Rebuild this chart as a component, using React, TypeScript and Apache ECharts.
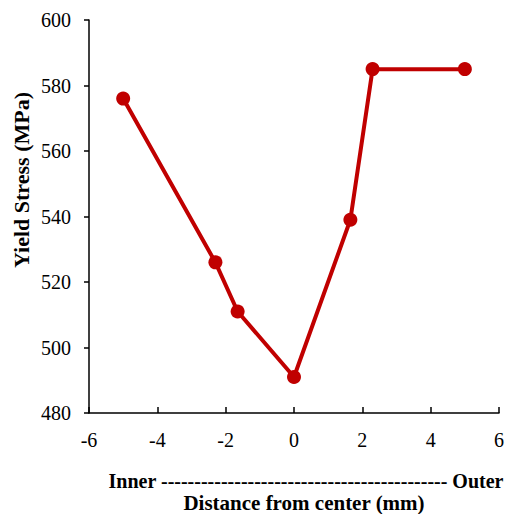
import React, { useEffect, useRef } from "react";
import * as echarts from "echarts";

const distances = [-5, -2.3, -1.65, 0, 1.65, 2.3, 5];
const yieldStress = [576, 526, 511, 491, 539, 585, 585];
const yTitle = "Yield Stress (MPa)";
const xTitle = "Distance from center (mm)";
const sideLabel = "Inner " + "-".repeat(43) + " Outer";

const FONT = "Liberation Serif";

const tickRich = {
  t: { fontFamily: FONT, fontSize: 20, color: "#000", fontWeight: "normal" },
};

export default function App() {
  const ref = useRef<HTMLDivElement>(null);
  useEffect(() => {
    if (!ref.current) return;
    const chart = echarts.init(ref.current, undefined, { renderer: "svg" });
    chart.setOption({
      animation: false,
      textStyle: { fontFamily: FONT },
      grid: { left: 89, right: 8, top: 20, bottom: 101, containLabel: false },
      xAxis: {
        type: "value",
        min: -6,
        max: 6,
        interval: 2,
        axisLine: { show: true, onZero: false, lineStyle: { color: "#000", width: 1.5 } },
        axisTick: { show: true, inside: true, length: 6, lineStyle: { color: "#000", width: 1.5 } },
        splitLine: { show: false },
        axisLabel: {
          color: "#000",
          fontSize: 20,
          fontFamily: FONT,
          margin: 17,
          formatter: "{t|{value}}",
          rich: tickRich,
        },
      },
      yAxis: {
        type: "value",
        min: 480,
        max: 600,
        interval: 20,
        axisLine: { show: true, onZero: false, lineStyle: { color: "#000", width: 1.5 } },
        axisTick: { show: true, inside: false, length: 5, lineStyle: { color: "#000", width: 1.5 } },
        splitLine: { show: false },
        axisLabel: {
          color: "#000",
          fontSize: 20,
          fontFamily: FONT,
          margin: 18,
          formatter: "{t|{value}}",
          rich: tickRich,
        },
      },
      graphic: [
        {
          type: "text",
          x: 21,
          y: 180,
          rotation: Math.PI / 2,
          style: {
            text: yTitle,
            fontFamily: FONT,
            fontSize: 22,
            fontWeight: "bold",
            fill: "#000",
            align: "center",
            verticalAlign: "middle",
          },
        },
        {
          type: "text",
          x: 306,
          y: 481,
          style: {
            text: sideLabel,
            fontFamily: FONT,
            fontSize: 20,
            fontWeight: "bold",
            fill: "#000",
            align: "center",
            verticalAlign: "middle",
          },
        },
        {
          type: "text",
          x: 304,
          y: 503,
          style: {
            text: xTitle,
            fontFamily: FONT,
            fontSize: 21,
            fontWeight: "bold",
            fill: "#000",
            align: "center",
            verticalAlign: "middle",
          },
        },
      ],
      series: [
        {
          type: "line",
          data: distances.map((d, i) => [d, yieldStress[i]]),
          symbol: "circle",
          symbolSize: 14,
          lineStyle: { color: "#C00000", width: 4 },
          itemStyle: { color: "#C00000" },
        },
      ],
    });
    return () => chart.dispose();
  }, []);
  return <div ref={ref} style={{ width: 507, height: 514, position: "absolute", left: 0, top: 0 }} />;
}
